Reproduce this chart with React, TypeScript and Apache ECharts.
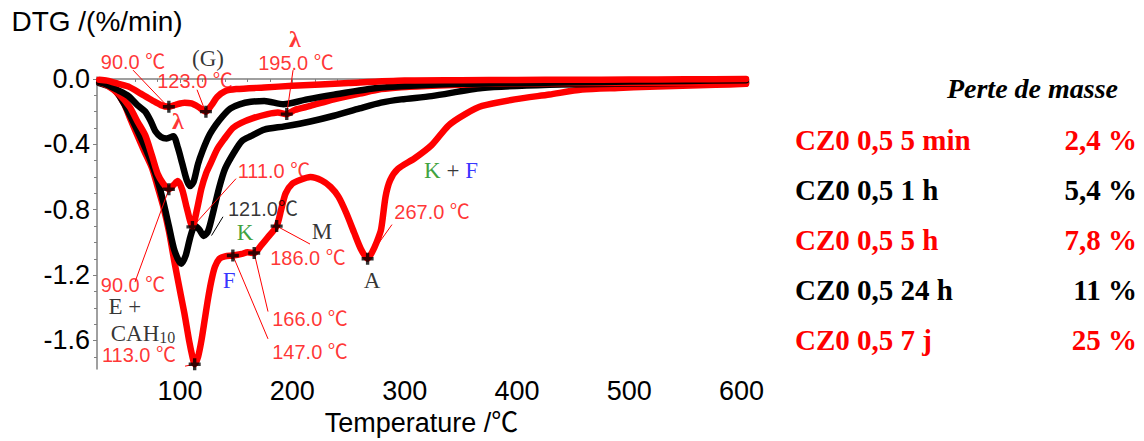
import React, { useEffect, useRef } from "react";
import * as echarts from "echarts";

// ---- data (temperature °C, DTG %/min) ----
const cz5min: [number, number][] = [
  [28, -0.005], [35, -0.01], [45, -0.03], [55, -0.05], [65, -0.09], [75, -0.13], [83, -0.16], [90, -0.17],
  [97, -0.155], [104, -0.145], [110, -0.15], [116, -0.17], [123, -0.2], [128, -0.16], [133, -0.11], [140, -0.075],
  [150, -0.062], [175, -0.052], [200, -0.042], [250, -0.025], [300, -0.01], [350, -0.008], [400, -0.006],
  [450, -0.005], [500, -0.004], [550, -0.002], [604, 0.0],
];
const cz1h: [number, number][] = [
  [28, -0.02], [35, -0.035], [45, -0.07], [54, -0.105], [62, -0.16], [69, -0.2], [74, -0.26], [78, -0.32],
  [83, -0.355], [88, -0.365], [94, -0.35], [98, -0.42], [102, -0.52], [106, -0.62], [109, -0.655], [112, -0.63],
  [116, -0.52], [120, -0.44], [126, -0.345], [132, -0.28], [138, -0.227], [145, -0.18], [153, -0.155],
  [163, -0.14], [175, -0.135], [192, -0.155], [213, -0.125], [237, -0.096], [270, -0.06], [297, -0.045],
  [350, -0.03], [400, -0.025], [450, -0.02], [500, -0.016], [550, -0.012], [604, -0.008],
];
const cz5h: [number, number][] = [
  [28, -0.02], [35, -0.04], [45, -0.09], [55, -0.17], [62, -0.26], [69, -0.345], [75, -0.47], [80, -0.58],
  [85, -0.64], [90, -0.675], [94, -0.65], [98, -0.625], [102, -0.68], [106, -0.79], [111, -0.905], [115, -0.8],
  [119, -0.67], [123, -0.58], [127, -0.52], [133, -0.43], [139, -0.37], [147, -0.3], [154, -0.27],
  [165, -0.24], [178, -0.215], [187, -0.205], [195, -0.215], [202, -0.19], [216, -0.165], [237, -0.125],
  [260, -0.09], [279, -0.062], [297, -0.05], [330, -0.04], [369, -0.03], [400, -0.027], [450, -0.025],
  [500, -0.025], [550, -0.025], [604, -0.025],
];
const cz24h: [number, number][] = [
  [28, -0.025], [35, -0.04], [42, -0.065], [50, -0.15], [57, -0.245], [65, -0.36], [72, -0.47], [79, -0.6],
  [85, -0.75], [90, -0.9], [95, -1.05], [101, -1.13], [105, -1.08], [109, -0.97], [113, -0.9], [117, -0.92],
  [121, -0.96], [125, -0.93], [130, -0.8], [135, -0.66], [140, -0.55], [148, -0.45], [155, -0.38],
  [163, -0.35], [175, -0.31], [193, -0.29], [216, -0.26], [237, -0.225], [260, -0.18], [279, -0.145],
  [297, -0.125], [324, -0.105], [369, -0.055], [429, -0.035], [488, -0.03], [548, -0.025], [604, -0.02],
];
const cz7j: [number, number][] = [
  [28, -0.02], [35, -0.035], [42, -0.07], [50, -0.15], [56, -0.25], [62, -0.345], [68, -0.44], [75, -0.545],
  [80, -0.66], [85, -0.78], [90, -0.93], [95, -1.12], [100, -1.3], [104, -1.44], [108, -1.6], [111, -1.7],
  [113, -1.745], [116, -1.7], [119, -1.6], [122, -1.47], [125, -1.34], [128, -1.23], [131, -1.15],
  [135, -1.1], [140, -1.085], [147, -1.08], [155, -1.07], [160, -1.06], [166, -1.065], [172, -1.02],
  [178, -0.97], [186, -0.9], [190, -0.8], [194, -0.7], [200, -0.64], [208, -0.615], [216, -0.6],
  [226, -0.62], [234, -0.66], [241, -0.72], [248, -0.82], [255, -0.94], [261, -1.04], [267, -1.1],
  [271, -1.06], [275, -1.0], [279, -0.92], [283, -0.72], [287, -0.62], [294, -0.55], [309, -0.485],
  [324, -0.405], [339, -0.285], [354, -0.215], [369, -0.165], [398, -0.125], [429, -0.095], [458, -0.065],
  [490, -0.055], [518, -0.048], [577, -0.036], [604, -0.03],
];

const seriesNames = ["CZ0 0,5 5 min", "CZ0 0,5 1 h", "CZ0 0,5 5 h", "CZ0 0,5 24 h", "CZ0 0,5 7 j"];
const massLoss = ["2,4 %", "5,4 %", "7,8 %", "11 %", "25 %"];
const seriesColors = ["#ff0000", "#000000", "#ff0000", "#000000", "#ff0000"];
const seriesData = [cz5min, cz1h, cz5h, cz24h, cz7j];

// peak markers (temperature, DTG)
const peakMarkers: [number, number][] = [
  [90, -0.17], [123, -0.2], [195, -0.215], [90, -0.675], [111, -0.905],
  [113, -1.745], [147, -1.08], [166, -1.065], [186, -0.9], [267, -1.1],
];

// annotations: [temperature, DTG, text, kind]
const annotations: [number, number, string, string][] = [
  [58.1, 0.102, "90.0 ℃", "temp"],
  [124.9, 0.126, "(G)", "serif"],
  [113.3, -0.014, "123.0 ℃", "temp"],
  [202.3, 0.245, "λ", "lambda"],
  [203.2, 0.1, "195.0 ℃", "temp"],
  [98.1, -0.257, "λ", "lambda"],
  [183.6, -0.562, "111.0 ℃", "temp"],
  [173.8, -0.795, "121.0℃", "tempBlack"],
  [157.8, -0.938, "{g|K}", "serif"],
  [226.4, -0.932, "M", "serif"],
  [213.9, -1.094, "186.0 ℃", "temp"],
  [58.1, -1.261, "90.0 ℃", "temp"],
  [143.6, -1.231, "{b|F}", "serif"],
  [270.9, -1.231, "A", "serif"],
  [50.9, -1.393, "E +", "serif"],
  [215.7, -1.47, "166.0 ℃", "temp"],
  [67, -1.558, "CAH{s|10}", "serif"],
  [215.7, -1.668, "147.0 ℃", "temp"],
  [63.4, -1.688, "113.0 ℃", "temp"],
  [324.4, -0.813, "267.0 ℃", "temp"],
  [341.3, -0.562, "{g|K} + {b|F}", "serif"],
];

// leader lines: [t1, v1, t2, v2, colour]
const leaders: [number, number, number, number, string][] = [
  [58.1, 0.054, 88.5, -0.165, "#ff0000"],
  [115.1, -0.066, 122, -0.19, "#ff0000"],
  [200.6, 0.054, 195, -0.215, "#ff0000"],
  [149.8, -0.61, 111, -0.905, "#ff0000"],
  [59.8, -1.243, 90, -0.675, "#ff0000"],
  [138.2, -0.843, 128, -0.958, "#000000"],
  [215.7, -1.01, 186, -0.9, "#ff0000"],
  [178.3, -1.423, 166, -1.065, "#ff0000"],
  [178.3, -1.59, 147, -1.08, "#ff0000"],
  [104.4, -1.757, 113, -1.745, "#ff0000"],
  [288.7, -0.891, 267, -1.1, "#ff0000"],
];

const yMajor = [0, -0.4, -0.8, -1.2, -1.6];
const yMinor = [0, -0.1, -0.2, -0.3, -0.4, -0.5, -0.6, -0.7, -0.8, -0.9, -1.0, -1.1, -1.2, -1.3, -1.4, -1.5, -1.6, -1.7];
const xMajor = [100, 200, 300, 400, 500, 600];
const xMinor = [40, 60, 80, 100, 120, 140, 160, 180, 200, 220, 240, 260, 280, 300, 320, 340, 360, 380, 400, 420, 440, 460, 480, 500, 520, 540, 560, 580, 600];

const SANS = "'Liberation Sans', Arial, 'Noto Sans CJK SC', 'DejaVu Sans', sans-serif";
const SERIF = "'Liberation Serif', 'Times New Roman', serif";

export default function App() {
  const ref = useRef<HTMLDivElement>(null);
  useEffect(() => {
    if (!ref.current) return;
    const chart = echarts.init(ref.current, null, { renderer: "svg" });
    const grid = { left: 97, right: 398, top: 77, bottom: 65, containLabel: false };
    const xBase = { type: "value", min: 26, max: 604, splitLine: { show: false } };
    const yBase = { type: "value", min: -1.775, max: 0.012, splitLine: { show: false } };

    const lineSeries = seriesData.map((d, i) => ({
      name: seriesNames[i],
      type: "line",
      data: d,
      smooth: 0.25,
      symbol: "none",
      lineStyle: { color: seriesColors[i], width: 6.5, join: "round", cap: "round" },
      z: 2 + (4 - i) * 0.1,
    }));

    const leaderSeries = leaders.map((l, i) => ({
      name: "leader" + i,
      type: "line",
      data: [[l[0], l[1]], [l[2], l[3]]],
      symbol: "none",
      clip: false,
      lineStyle: { color: l[4], width: 1 },
      z: 4,
    }));

    const annoItems = annotations.map((a) => {
      const kind = a[3];
      let label: any;
      if (kind === "temp" || kind === "tempBlack") {
        label = { fontFamily: SANS, fontSize: 20, color: kind === "temp" ? "#ff0000" : "#000000" };
      } else if (kind === "lambda") {
        label = { fontFamily: SERIF, fontSize: 24, fontWeight: "bold", color: "#ff0000" };
      } else {
        label = {
          fontFamily: SERIF,
          fontSize: 23,
          color: "#000000",
          rich: {
            g: { fontFamily: SERIF, fontSize: 23, color: "#0b8a0b" },
            b: { fontFamily: SERIF, fontSize: 23, color: "#0000ff" },
            s: { fontFamily: SERIF, fontSize: 16, color: "#000000", verticalAlign: "bottom", padding: [8, 0, 0, 0] },
          },
        };
      }
      return {
        value: [a[0], a[1]],
        label: { show: true, position: "inside", formatter: a[2], ...label },
      };
    });

    chart.setOption({
      animation: false,
      grid,
      xAxis: [
        {
          ...xBase,
          name: "Temperature /℃",
          nameLocation: "middle",
          nameGap: 36,
          nameTextStyle: { fontFamily: SANS, fontSize: 27, color: "#000" },
          axisLine: { show: true, lineStyle: { color: "#808080", width: 1.5 } },
          axisTick: { show: true, inside: false, length: 4, customValues: xMajor, lineStyle: { color: "#808080" } },
          axisLabel: { customValues: xMajor, margin: 8, fontFamily: SANS, fontSize: 27, color: "#000" },
        },
        {
          ...xBase,
          position: "bottom",
          axisLine: { show: false },
          axisTick: { show: true, inside: false, length: 3, customValues: xMinor, lineStyle: { color: "#808080" } },
          axisLabel: { show: false },
        },
      ],
      yAxis: [
        {
          ...yBase,
          name: "DTG /(%/min)",
          nameLocation: "end",
          nameGap: 42,
          nameTextStyle: { fontFamily: SANS, fontSize: 28, color: "#000", align: "center" },
          axisLine: { show: true, lineStyle: { color: "#808080", width: 1.5 } },
          axisTick: { show: true, inside: false, length: 4, customValues: yMajor, lineStyle: { color: "#808080" } },
          axisLabel: {
            customValues: yMajor,
            margin: 7,
            fontFamily: SANS,
            fontSize: 27,
            color: "#000",
            formatter: (v: number) => v.toFixed(1),
          },
        },
        {
          ...yBase,
          position: "left",
          axisLine: { show: false },
          axisTick: { show: true, inside: false, length: 3, customValues: yMinor, lineStyle: { color: "#808080" } },
          axisLabel: { show: false },
        },
      ],
      graphic: [
        {
          type: "text",
          x: 1118,
          y: 88,
          style: {
            text: "Perte de masse",
            font: `italic bold 28px ${SERIF}`,
            fill: "#000",
            textAlign: "right",
            textVerticalAlign: "middle",
          },
        },
        ...seriesNames.flatMap((n, i) => [
          {
            type: "text",
            x: 795,
            y: 140 + i * 50,
            style: {
              text: n,
              font: `bold 29px ${SERIF}`,
              fill: seriesColors[i],
              textAlign: "left",
              textVerticalAlign: "middle",
            },
          },
          {
            type: "text",
            x: 1137,
            y: 140 + i * 50,
            style: {
              text: massLoss[i],
              font: `bold 29px ${SERIF}`,
              fill: seriesColors[i],
              textAlign: "right",
              textVerticalAlign: "middle",
            },
          },
        ]),
      ],
      series: [
        ...lineSeries,
        ...leaderSeries,
        {
          name: "peaks",
          type: "scatter",
          data: peakMarkers,
          symbol: "path://M3.6,0H6.4V3.6H10V6.4H6.4V10H3.6V6.4H0V3.6H3.6Z",
          symbolSize: 12,
          itemStyle: { color: "#000" },
          z: 5,
        },
        {
          name: "annotations",
          type: "scatter",
          data: annoItems,
          symbolSize: 0,
          clip: false,
          z: 6,
        },
      ],
    });
    return () => chart.dispose();
  }, []);
  return (
    <div
      ref={ref}
      style={{ position: "fixed", left: 0, top: 0, width: 1144, height: 441, background: "#fff" }}
    />
  );
}
